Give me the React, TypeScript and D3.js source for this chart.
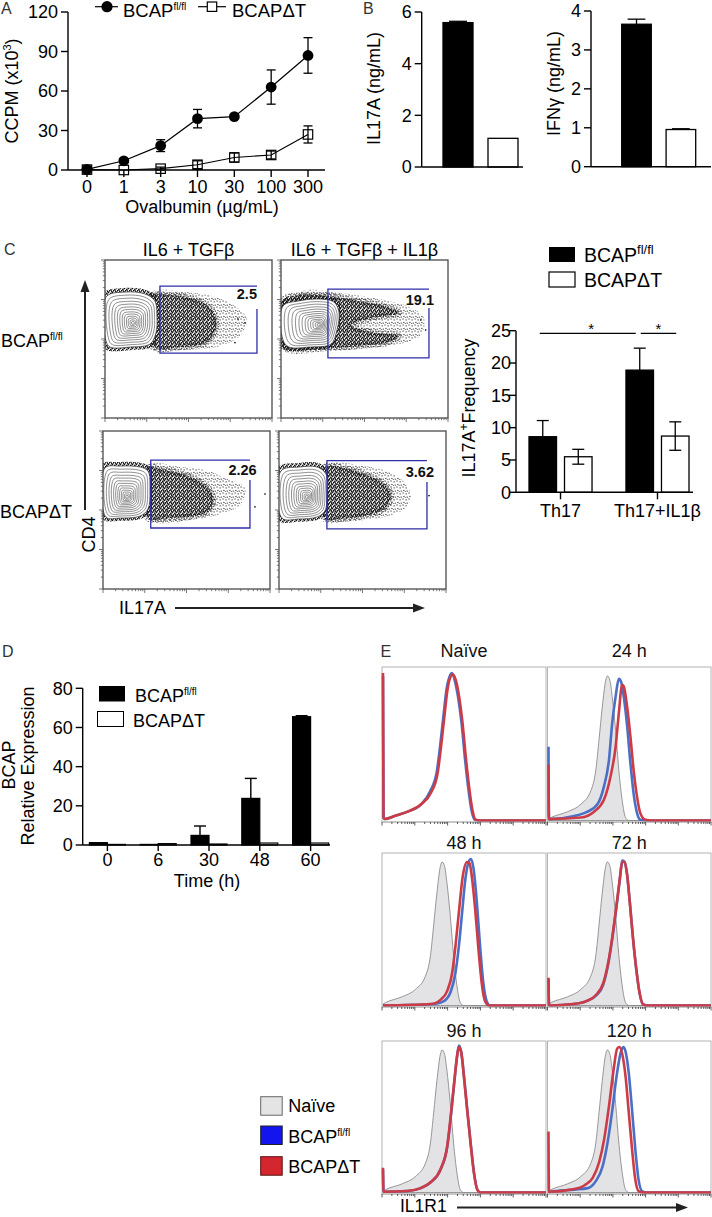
import React from "react";
import * as d3 from "d3";

const FONT = "'Liberation Sans', Arimo, Arial, Helvetica, sans-serif";

// ---------- Panel A ----------
const ovaDoses = ["0", "1", "3", "10", "30", "100", "300"];
const ccpmFlox = [0.5, 7, 18.5, 39, 40.5, 63, 87];
const ccpmFloxErr = [0, 1.5, 4.5, 7, 1.5, 13, 13.5];
const ccpmKO = [0.3, 0, 1, 4, 9.5, 11.4, 27];
const ccpmKOErr = [0, 0, 1.2, 3, 3.5, 3, 6.5];
const ccpmTicks = [0, 30, 60, 90, 120];

// ---------- Panel B ----------
const genotypes = ["BCAPfl/fl", "BCAPΔT"];
const il17aConc = [5.59, 1.11];
const il17aErr = [0.05, 0];
const il17aTicks = [0, 2, 4, 6];
const ifngConc = [3.66, 0.955];
const ifngErr = [0.13, 0.02];
const ifngTicks = [0, 1, 2, 3, 4];

// ---------- Panel C (bars) ----------
const th17Conditions = ["Th17", "Th17+IL1β"];
const il17FreqFlox = [8.6, 18.9];
const il17FreqFloxErr = [2.5, 3.4];
const il17FreqKO = [5.5, 8.7];
const il17FreqKOErr = [1.15, 2.2];
const freqTicks = [0, 5, 10, 15, 20, 25];

// ---------- Panel C (flow plots) ----------
const flowConditions = ["IL6 + TGFβ", "IL6 + TGFβ + IL1β"];
const flowPct = ["2.5", "19.1", "2.26", "3.62"];
const flowGates = [
  [32.9, 91, 41.1, 83.5, 69],
  [28.1, 88.6, 38, 81.6, 69.6],
  [28.6, 88, 38.6, 81.6, 69],
  [28.7, 88.6, 38, 81.2, 67.7],
];
const flowLabelPos = [
  [91, 75.3],
  [91.6, 71.5],
  [92, 72.2],
  [92.8, 71.1],
];
const flowContourOuter = [
  [[0.6, 76.6], [12, 79.7], [24, 78.5], [29.9, 74], [31.1, 64.6], [30.5, 53.8], [26.9, 46.8], [15, 44.9], [3, 44.9], [0.6, 48.7]],
  [[1.2, 70.9], [10.8, 74.1], [22.8, 75.3], [31.7, 73.4], [34.7, 67.1], [33.5, 55.7], [29.9, 46.8], [16.8, 44.9], [4.8, 44.9], [1.2, 49.4]],
  [[1.2, 76.6], [10.2, 77.8], [22.2, 77.2], [26.9, 74.7], [28.1, 63.3], [26.9, 50.6], [22.2, 46.2], [10.2, 44.9], [1.8, 45.6]],
  [[1.2, 74.7], [12, 77.2], [22.8, 77.2], [28.1, 72.8], [28.7, 60.1], [27.5, 49.4], [22.8, 45.6], [12, 44.3], [1.8, 44.9]],
];
const flowContourCenter = [
  [16.8, 60.1],
  [22.8, 58.9],
  [14.4, 58.2],
  [16.8, 58.2],
];
const flowDense = [
  [[26.9, 76.6], [38.9, 77.8], [50.9, 75.9], [59.9, 72.2], [65.9, 64.6], [65.9, 55.1], [59.9, 47.5], [44.9, 44.9], [29.9, 44.9]],
  [[1.2, 74.7], [10.8, 77.8], [28.7, 77.2], [46.7, 74.1], [61.7, 70.9], [70.7, 66.5], [53.9, 63.3], [41.9, 58.9], [53.9, 54.4], [70.7, 51.9], [64.7, 48.1], [46.7, 45.6], [28.7, 44.3], [1.2, 44.9]],
  [[26.9, 76.6], [37.1, 75.3], [49.1, 72.2], [61.1, 65.8], [65.9, 58.2], [64.1, 50], [55.1, 46.2], [40.1, 44.9], [26.9, 44.9]],
  [[27.5, 77.2], [38.9, 76.6], [50.9, 72.8], [62.9, 66.5], [67.1, 58.9], [62.9, 50.6], [50.9, 46.2], [35.9, 44.3], [27.5, 44.3]],
];
const flowSparse = [
  [[26.9, 79.1], [47.9, 79.7], [65.9, 76.6], [77.8, 70.9], [85, 62.7], [80.8, 51.9], [68.9, 45.6], [47.9, 43], [26.9, 43.7]],
  [[10.8, 79.1], [34.7, 79.1], [58.7, 75.3], [76.6, 70.3], [85.6, 63.3], [83.8, 52.5], [73.7, 47.5], [52.7, 44.3], [28.7, 43], [10.8, 43.7]],
  [[28.1, 78.5], [46.1, 77.2], [61.1, 75.3], [73.1, 70.3], [85, 63.9], [82, 53.2], [70.1, 47.5], [52.1, 43.7], [28.1, 43.7]],
  [[29.9, 78.5], [50.9, 77.8], [65.9, 74.1], [74.9, 67.7], [79, 58.9], [74.9, 50.6], [62.9, 45.6], [41.9, 43], [29.9, 43]],
];
const flowStrays = [
  [[79.6, 62.7], [83.8, 60.3], [77.8, 47.7]],
  [[83.7, 62], [86.6, 55.7]],
  [[97, 60.1], [91, 52]],
  [[89.8, 59.1]],
];

// ---------- Panel D ----------
const timePoints = ["0", "6", "30", "48", "60"];
const bcapFlox = [1.2, 0.3, 4.9, 23.8, 65.5];
const bcapFloxErr = [0, 0, 4.8, 10.2, 0.5];
const bcapKO = [0.3, 0.7, 0.5, 1, 1];
const bcapTicks = [0, 20, 40, 60, 80];

// ---------- Panel E (histograms: [channel 0-1000, % of max]) ----------
const histTitles = ["Naïve", "24 h", "48 h", "72 h", "96 h", "120 h"];
const naiveRef = [[0, 1], [16, 2], [118, 6], [199, 11], [260, 20], [291, 34], [311, 55], [331, 77], [352, 95], [362, 98], [378, 95], [392, 84], [413, 61], [433, 34], [453, 14], [474, 2], [494, 0], [1000, 0]];
const naiveBlue = [[0, 98], [3, 2], [10, 1], [71, 3], [152, 6], [234, 11], [290, 20], [330, 33], [350, 50], [370, 70], [390, 89], [410, 98], [423, 100], [440, 95], [460, 84], [482, 66], [502, 43], [522, 23], [543, 7], [563, 0.5], [595, 0], [1000, 0]];
const naiveRed = [[0, 100], [3, 2], [10, 1], [71, 3], [152, 6], [234, 11], [295, 19], [335, 32], [356, 50], [376, 70], [396, 89], [417, 98], [431, 99], [447, 95], [467, 84], [488, 66], [508, 43], [528, 23], [549, 7], [569, 0.5], [600, 0], [1000, 0]];
const h24Blue = [[0, 50], [3, 1], [16, 1], [159, 3], [240, 6], [301, 11], [341, 23], [372, 41], [392, 66], [413, 84], [433, 96], [447, 94], [463, 84], [484, 64], [504, 39], [524, 18], [545, 5], [565, 0.5], [606, 0], [1000, 0]];
const h24Red = [[0, 38], [3, 1], [16, 1], [199, 2], [280, 6], [341, 14], [382, 30], [413, 50], [433, 73], [453, 92], [463, 91], [484, 77], [504, 57], [524, 34], [545, 16], [565, 5], [596, 0.5], [646, 0], [1000, 0]];
const h48Blue = [[0, 0], [313, 1], [374, 3], [414, 9], [444, 22], [465, 40], [485, 63], [505, 86], [525, 98], [540, 100], [556, 93], [576, 70], [596, 40], [616, 15], [636, 3], [657, 0], [1000, 0]];
const h48Red = [[0, 0], [293, 1], [354, 4], [394, 10], [424, 22], [444, 40], [465, 63], [489, 88], [515, 98], [531, 97], [545, 88], [566, 65], [586, 38], [606, 15], [626, 3], [651, 0], [1000, 0]];
const h72Blue = [[0, 18], [3, 0.5], [10, 0], [153, 1], [234, 3], [295, 7], [336, 14], [367, 28], [393, 46], [418, 67], [438, 85], [455, 99], [469, 98], [484, 89], [500, 71], [520, 46], [541, 24], [561, 8], [581, 1], [612, 0], [1000, 0]];
const h72Red = [[0, 19], [3, 0.5], [10, 0], [153, 1], [234, 3], [295, 7.5], [336, 15], [367, 29], [393, 47], [418, 68], [438, 86], [454, 98], [468, 98], [483, 90], [499, 72], [519, 47], [540, 25], [560, 9], [580, 1], [611, 0], [1000, 0]];
const h96Blue = [[0, 16], [3, 0.5], [6, 0.5], [150, 1], [232, 3], [293, 7], [354, 16], [395, 32], [415, 51], [436, 74], [456, 95], [466, 101], [481, 96], [497, 80], [517, 57], [538, 34], [558, 14], [579, 2], [599, 0], [1000, 0]];
const h96Red = [[0, 17], [3, 0.5], [6, 0.5], [149, 1], [231, 3], [292, 7], [353, 16], [394, 32], [414, 51], [435, 74], [455, 94], [465, 100], [480, 96], [496, 80], [516, 57], [537, 34], [557, 14], [578, 2], [598, 0], [1000, 0]];
const h120Blue = [[0, 0], [10, 0.5], [161, 2], [242, 3], [292, 8], [333, 18], [363, 34], [393, 57], [419, 80], [444, 96], [460, 100], [474, 97], [494, 82], [514, 57], [534, 30], [554, 9], [575, 1], [605, 0], [1000, 0]];
const h120Red = [[0, 42], [3, 0.5], [10, 0.5], [141, 2], [222, 5], [272, 10], [312, 21], [343, 37], [373, 60], [399, 83], [423, 99], [437, 100], [454, 95], [474, 80], [494, 55], [514, 30], [534, 9], [554, 1], [585, 0], [1000, 0]];
const histFlox = [naiveBlue, h24Blue, h48Blue, h72Blue, h96Blue, h120Blue];
const histKO = [naiveRed, h24Red, h48Red, h72Red, h96Red, h120Red];
const histLegend = ["Naïve", "BCAPfl/fl", "BCAPΔT"];

// ---------- style constants ----------
const contourLevels = [0.9, 0.8, 0.7, 0.61, 0.52, 0.44, 0.36, 0.29, 0.22, 0.16, 0.1, 0.05];
const denseDotTile = [[0, 0], [2, 0.7], [1, 2], [3, 2.7], [0.3, 3.1], [2.5, 1.6], [3.4, 0.2]];
const mediumDotTile = [[0.3, 0.4], [2.6, 1.1], [1.2, 2.7], [3.8, 3.6], [0.2, 4.3], [2.9, 4.6]];
const sparseDotTile = [[0.5, 0.5], [3.6, 1.4], [1.4, 3.9], [4.7, 4.6], [2.8, 5.4]];
const BLUE = "#4a6fc4";
const RED = "#cc3b46";

function logTicks(decades: number) {
  const out: { v: number; major: boolean }[] = [];
  for (let d = 0; d < decades; d++)
    for (let m = 1; m < 10; m++) out.push({ v: m * Math.pow(10, d), major: m === 1 });
  out.push({ v: Math.pow(10, decades), major: true });
  return out;
}

function GenoLabel({ name, x, y, size, supSize, supDy, anchor }: any) {
  const isFlox = name.endsWith("fl/fl");
  return (
    <text x={x} y={y} fontSize={size} textAnchor={anchor || "start"}>
      {isFlox ? "BCAP" : name}
      {isFlox ? <tspan fontSize={supSize} dy={-supDy}>fl/fl</tspan> : null}
    </text>
  );
}

// ---------- Panel A ----------
function PanelA() {
  const x = d3.scalePoint<string>().domain(ovaDoses).range([87, 308]);
  const y = d3.scaleLinear().domain([0, 120]).range([170, 12]);
  const ax0 = 68, ax1 = 325;
  const line = d3.line<number>().x((_, i) => x(ovaDoses[i]) as number).y((d) => y(d));
  const errBars = (vals: number[], errs: number[], k: string) =>
    vals.map((v, i) => {
      if (!errs[i]) return null;
      const cx = x(ovaDoses[i]) as number;
      return (
        <g key={k + i} stroke="#000" strokeWidth={1.3}>
          <line x1={cx} x2={cx} y1={y(Math.max(0, v - errs[i]))} y2={y(v + errs[i])} />
          <line x1={cx - 4.5} x2={cx + 4.5} y1={y(v + errs[i])} y2={y(v + errs[i])} />
          <line x1={cx - 4.5} x2={cx + 4.5} y1={y(Math.max(0, v - errs[i]))} y2={y(Math.max(0, v - errs[i]))} />
        </g>
      );
    });
  return (
    <g>
      <text x={1} y={13.5} fontSize={16} fill="#333">A</text>
      <line x1={ax0} x2={ax0} y1={y(0)} y2={y(120)} stroke="#000" strokeWidth={1.4} />
      {ccpmTicks.map((t) => (
        <g key={t}>
          <line x1={ax0 - 7} x2={ax0} y1={y(t)} y2={y(t)} stroke="#000" strokeWidth={1.4} />
          <text x={ax0 - 10} y={y(t) + 6.3} fontSize={18} textAnchor="end">{t}</text>
        </g>
      ))}
      <line x1={ax0} x2={ax1} y1={y(0)} y2={y(0)} stroke="#000" strokeWidth={1.4} />
      {ovaDoses.map((d) => (
        <g key={d}>
          <line x1={x(d)} x2={x(d)} y1={y(0)} y2={y(0) + 7} stroke="#000" strokeWidth={1.4} />
          <text x={x(d)} y={y(0) + 23} fontSize={18} textAnchor="middle">{d}</text>
        </g>
      ))}
      <text x={202} y={213} fontSize={18} textAnchor="middle">Ovalbumin (µg/mL)</text>
      <text transform="translate(18,91) rotate(-90)" fontSize={18} textAnchor="middle">
        CCPM (x10<tspan fontSize={11} dy={-7}>3</tspan><tspan dy={7}>)</tspan>
      </text>
      <path d={line(ccpmKO) || ""} fill="none" stroke="#000" strokeWidth={1.2} />
      <path d={line(ccpmFlox) || ""} fill="none" stroke="#000" strokeWidth={1.2} />
      {errBars(ccpmKO, ccpmKOErr, "k")}
      {errBars(ccpmFlox, ccpmFloxErr, "f")}
      {ccpmKO.map((v, i) => (
        <rect key={"s" + i} x={(x(ovaDoses[i]) as number) - 4.7} y={y(v) - 4.7} width={9.4} height={9.4} fill="none" stroke="#000" strokeWidth={1.2} />
      ))}
      {ccpmFlox.map((v, i) => (
        <circle key={"c" + i} cx={x(ovaDoses[i])} cy={y(v)} r={5.4} fill="#000" />
      ))}
      {/* legend */}
      <line x1={95} x2={118} y1={6.7} y2={6.7} stroke="#000" strokeWidth={1.2} />
      <circle cx={107} cy={6.7} r={5.6} fill="#000" />
      <GenoLabel name={genotypes[0]} x={123} y={16.5} size={18.5} supSize={10} supDy={7} />
      <line x1={198} x2={226} y1={6.7} y2={6.7} stroke="#000" strokeWidth={1.2} />
      <rect x={207.3} y={2} width={9.4} height={9.4} fill="#fff" stroke="#000" strokeWidth={1.2} />
      <GenoLabel name={genotypes[1]} x={232} y={16.5} size={18.5} />
    </g>
  );
}

// ---------- Panel B ----------
function SimpleBars({ values, errs, yMax, ticks, yRange, axisX, axisEnd, barRange, label, labelX, labelY }: any) {
  const y = d3.scaleLinear().domain([0, yMax]).range(yRange);
  const x = d3.scaleBand<string>().domain(genotypes).range(barRange).paddingInner(1 / 3);
  const bw = x.bandwidth();
  return (
    <g>
      {values.map((v: number, i: number) => (
        <rect key={i} x={x(genotypes[i])} y={y(v)} width={bw} height={y(0) - y(v)} fill={i === 0 ? "#000" : "#fff"} stroke="#000" strokeWidth={1.3} />
      ))}
      {errs.map((e: number, i: number) => {
        if (!e) return null;
        const cx = (x(genotypes[i]) as number) + bw / 2;
        return (
          <g key={"e" + i} stroke="#000" strokeWidth={1.3}>
            <line x1={cx} x2={cx} y1={y(values[i])} y2={y(values[i] + e)} />
            <line x1={cx - bw * 0.3} x2={cx + bw * 0.3} y1={y(values[i] + e)} y2={y(values[i] + e)} />
          </g>
        );
      })}
      <line x1={axisX} x2={axisX} y1={y(0)} y2={y(yMax)} stroke="#000" strokeWidth={1.4} />
      <line x1={axisX} x2={axisEnd} y1={y(0)} y2={y(0)} stroke="#000" strokeWidth={1.4} />
      {ticks.map((t: number) => (
        <g key={t}>
          <line x1={axisX - 7} x2={axisX} y1={y(t)} y2={y(t)} stroke="#000" strokeWidth={1.4} />
          <text x={axisX - 10} y={y(t) + 6.3} fontSize={18} textAnchor="end">{t}</text>
        </g>
      ))}
      <text transform={`translate(${labelX},${labelY}) rotate(-90)`} fontSize={18} textAnchor="middle">{label}</text>
    </g>
  );
}

function PanelB() {
  return (
    <g>
      <text x={363} y={13.5} fontSize={16} fill="#333">B</text>
      <SimpleBars values={il17aConc} errs={il17aErr} yMax={6} ticks={il17aTicks} yRange={[167, 12]} axisX={421.7} axisEnd={523} barRange={[443, 518]} label="IL17A (ng/mL)" labelX={380} labelY={88.5} />
      <SimpleBars values={ifngConc} errs={ifngErr} yMax={4} ticks={ifngTicks} yRange={[166.7, 11]} axisX={591} axisEnd={711} barRange={[621.7, 695.7]} label="IFNγ (ng/mL)" labelX={560} labelY={83.5} />
    </g>
  );
}

// ---------- Panel C flow ----------
function FlowPlot({ i, x0, top }: { i: number; x0: number; top: number }) {
  const w = 167, h = 158;
  const sx = d3.scaleLinear().domain([0, 100]).range([x0, x0 + w]);
  const sy = d3.scaleLinear().domain([0, 100]).range([top + h, top]);
  const lx = d3.scaleLog().domain([1, 1e4]).range([x0, x0 + w]);
  const ly = d3.scaleLog().domain([1, 1e4]).range([top + h, top]);
  const poly = d3
    .line<number[]>()
    .x((d) => sx(d[0]))
    .y((d) => sy(d[1]))
    .curve(d3.curveCatmullRomClosed.alpha(0.5));
  const c = flowContourCenter[i];
  const outer = flowContourOuter[i];
  const scaled = (s: number) => outer.map((p) => [c[0] + (p[0] - c[0]) * s, c[1] + (p[1] - c[1]) * s]);
  const [gx1, gx2, gy1, gy2, gOpen] = flowGates[i];
  const gatePath = `M${sx(gx2)},${sy(gOpen)}V${sy(gy1)}H${sx(gx1)}V${sy(gy2)}H${sx(gx2)}`;
  const ticks = logTicks(4);
  return (
    <g>
      <clipPath id={`fclip${i}`}>
        <rect x={x0} y={top} width={w} height={h} />
      </clipPath>
      <g clipPath={`url(#fclip${i})`}>
        <path d={poly(flowSparse[i]) || ""} fill="url(#dotsSparse)" />
        <path d={poly(flowDense[i]) || ""} fill="url(#dotsDense)" stroke="url(#dotsMedium)" strokeWidth={6} />
        <path d={poly(scaled(1.13)) || ""} fill="url(#dotsDense)" />
        <path d={poly(outer) || ""} fill="#fff" stroke="#333" strokeWidth={0.7} />
        {contourLevels.map((s) => (
          <path key={s} d={poly(scaled(s)) || ""} fill="none" stroke="#444" strokeWidth={0.6} />
        ))}
        {flowStrays[i].map((p, k) => (
          <rect key={k} x={sx(p[0]) - 0.7} y={sy(p[1]) - 0.7} width={1.4} height={1.4} fill="#000" />
        ))}
      </g>
      <path d={gatePath} fill="none" stroke="#2e2ea8" strokeWidth={1.3} />
      <text x={sx(flowLabelPos[i][0])} y={sy(flowLabelPos[i][1])} fontSize={14.5} fontWeight="bold" textAnchor="end" fill="#111">
        {flowPct[i]}
      </text>
      <rect x={x0} y={top} width={w} height={h} fill="none" stroke="#4a4a4a" strokeWidth={1.3} />
      {ticks.map((t, k) => (
        <line key={"x" + k} x1={lx(t.v)} x2={lx(t.v)} y1={top + h} y2={top + h + (t.major ? 4 : 2.2)} stroke="#555" strokeWidth={0.8} />
      ))}
      {ticks.map((t, k) => (
        <line key={"y" + k} x1={x0 - (t.major ? 4 : 2.2)} x2={x0} y1={ly(t.v)} y2={ly(t.v)} stroke="#555" strokeWidth={0.8} />
      ))}
    </g>
  );
}

function PanelCFlow() {
  const cols = [105, 281];
  const rows = [260, 431];
  return (
    <g>
      <text x={4} y={255} fontSize={16} fill="#333">C</text>
      {flowConditions.map((t, j) => (
        <text key={t} x={cols[j] + 83.5} y={256} fontSize={18} textAnchor="middle">{t}</text>
      ))}
      <GenoLabel name={genotypes[0]} x={1} y={346.5} size={18} supSize={10} supDy={7} />
      <GenoLabel name={genotypes[1]} x={0} y={518} size={18} />
      {[0, 1, 2, 3].map((i) => (
        <FlowPlot key={i} i={i} x0={cols[i % 2] - (i >= 2 ? 2 : 0)} top={rows[Math.floor(i / 2)]} />
      ))}
      {/* CD4 arrow */}
      <line x1={85} x2={85} y1={510} y2={290} stroke="#222" strokeWidth={2} />
      <path d="M85,280 L80.5,292 L89.5,292 Z" fill="#222" />
      <text transform="translate(95,534.5) rotate(-90)" fontSize={18} textAnchor="middle">CD4</text>
      {/* IL17A arrow */}
      <text x={119} y={614} fontSize={18}>IL17A</text>
      <line x1={175} x2={414} y1={608} y2={608} stroke="#222" strokeWidth={2} />
      <path d="M425,608 L413,603.5 L413,612.5 Z" fill="#222" />
    </g>
  );
}

// ---------- Panel C bars ----------
function PanelCBars() {
  const y = d3.scaleLinear().domain([0, 25]).range([492.3, 330.7]);
  const x0 = d3.scaleBand<string>().domain(th17Conditions).range([529, 689]).paddingInner(0.35);
  const x1 = d3.scaleBand<string>().domain(genotypes).range([0, x0.bandwidth()]).paddingInner(0.225);
  const axX = 516;
  const series = [
    { vals: il17FreqFlox, errs: il17FreqFloxErr, fill: "#000", g: genotypes[0] },
    { vals: il17FreqKO, errs: il17FreqKOErr, fill: "#fff", g: genotypes[1] },
  ];
  const bw = x1.bandwidth();
  const cxOf = (c: string, g: string) => (x0(c) as number) + (x1(g) as number) + bw / 2;
  const sigY = y(24.6);
  return (
    <g>
      {series.map((s) =>
        s.vals.map((v, i) => {
          const c = th17Conditions[i];
          const cx = cxOf(c, s.g);
          return (
            <g key={s.g + c}>
              <line x1={cx} x2={cx} y1={y(v - s.errs[i])} y2={y(v + s.errs[i])} stroke="#000" strokeWidth={1.3} />
              <line x1={cx - 6} x2={cx + 6} y1={y(v + s.errs[i])} y2={y(v + s.errs[i])} stroke="#000" strokeWidth={1.3} />
              <line x1={cx - 6} x2={cx + 6} y1={y(v - s.errs[i])} y2={y(v - s.errs[i])} stroke="#000" strokeWidth={1.3} />
              <rect x={cx - bw / 2} y={y(v)} width={bw} height={y(0) - y(v)} fill={s.fill} stroke="#000" strokeWidth={1.3} fillOpacity={s.fill === "#fff" ? 0 : 1} />
            </g>
          );
        })
      )}
      <line x1={axX} x2={axX} y1={y(0)} y2={y(25)} stroke="#000" strokeWidth={1.4} />
      <line x1={axX} x2={693} y1={y(0)} y2={y(0)} stroke="#000" strokeWidth={1.4} />
      {freqTicks.map((t) => (
        <g key={t}>
          <line x1={axX - 7} x2={axX} y1={y(t)} y2={y(t)} stroke="#000" strokeWidth={1.4} />
          <text x={axX - 5} y={y(t) + 6.3} fontSize={18} textAnchor="end">{t}</text>
        </g>
      ))}
      {th17Conditions.map((c) => {
        const cx = (x0(c) as number) + x0.bandwidth() / 2;
        return (
          <g key={c}>
            <line x1={cx} x2={cx} y1={y(0)} y2={y(0) + 7} stroke="#000" strokeWidth={1.4} />
            <text x={cx} y={516.7} fontSize={18} textAnchor="middle">{c}</text>
          </g>
        );
      })}
      <text transform="translate(475,408) rotate(-90)" fontSize={18} textAnchor="middle">
        IL17A<tspan fontSize={12} dy={-7}>+</tspan>
        <tspan dy={7}>Frequency</tspan>
      </text>
      {/* significance */}
      <line x1={cxOf(th17Conditions[0], genotypes[0]) - 3} x2={cxOf(th17Conditions[1], genotypes[0]) - 4} y1={sigY} y2={sigY} stroke="#000" strokeWidth={1.2} />
      <text x={(cxOf(th17Conditions[0], genotypes[0]) + cxOf(th17Conditions[1], genotypes[0])) / 2} y={sigY + 1} fontSize={15} textAnchor="middle">*</text>
      <line x1={cxOf(th17Conditions[1], genotypes[0]) + 1} x2={cxOf(th17Conditions[1], genotypes[1]) + 1} y1={sigY} y2={sigY} stroke="#000" strokeWidth={1.2} />
      <text x={(cxOf(th17Conditions[1], genotypes[0]) + cxOf(th17Conditions[1], genotypes[1])) / 2 + 1} y={sigY + 1} fontSize={15} textAnchor="middle">*</text>
      {/* legend */}
      <rect x={549} y={247} width={26} height={15} fill="#000" />
      <GenoLabel name={genotypes[0]} x={584} y={262} size={19.5} supSize={13} supDy={8} />
      <rect x={549} y={272} width={26} height={15} fill="#fff" stroke="#000" strokeWidth={1.2} />
      <GenoLabel name={genotypes[1]} x={584} y={287} size={19.5} />
    </g>
  );
}

// ---------- Panel D ----------
function PanelD() {
  const x = d3.scaleBand<string>().domain(timePoints).range([82, 336]);
  const y = d3.scaleLinear().domain([0, 80]).range([845, 688.3]);
  const ax = 82.7;
  const bw = 18;
  const cx = (t: string) => (x(t) as number) + x.bandwidth() / 2;
  return (
    <g>
      <text x={2} y={657} fontSize={16} fill="#333">D</text>
      {bcapFlox.map((v, i) => {
        const c = cx(timePoints[i]);
        const e = bcapFloxErr[i];
        return (
          <g key={"f" + i}>
            {e > 0 && (
              <g stroke="#000" strokeWidth={1.4}>
                <line x1={c - bw / 2} x2={c - bw / 2} y1={y(v)} y2={y(v + e)} />
                <line x1={c - bw / 2 - 6} x2={c - bw / 2 + 6} y1={y(v + e)} y2={y(v + e)} />
              </g>
            )}
            <rect x={c - bw} y={y(v)} width={bw} height={y(0) - y(v)} fill="#000" stroke="#000" strokeWidth={1.2} />
          </g>
        );
      })}
      {bcapKO.map((v, i) => {
        const c = cx(timePoints[i]);
        return <rect key={"k" + i} x={c} y={y(v)} width={bw} height={y(0) - y(v)} fill="#fff" stroke="#000" strokeWidth={1.2} />;
      })}
      <line x1={ax} x2={ax} y1={y(0)} y2={y(80)} stroke="#000" strokeWidth={1.4} />
      <line x1={ax} x2={330} y1={y(0)} y2={y(0)} stroke="#000" strokeWidth={1.4} />
      {bcapTicks.map((t) => (
        <g key={t}>
          <line x1={ax - 7} x2={ax} y1={y(t)} y2={y(t)} stroke="#000" strokeWidth={1.4} />
          <text x={ax - 10} y={y(t) + 6.3} fontSize={18} textAnchor="end">{t}</text>
        </g>
      ))}
      {timePoints.map((t) => (
        <g key={t}>
          <line x1={cx(t)} x2={cx(t)} y1={y(0)} y2={y(0) + 6} stroke="#000" strokeWidth={1.4} />
          <text x={cx(t)} y={866} fontSize={18} textAnchor="middle">{t}</text>
        </g>
      ))}
      <text x={207} y={887} fontSize={18} textAnchor="middle">Time (h)</text>
      <text transform="translate(15,765) rotate(-90)" fontSize={18} textAnchor="middle">BCAP</text>
      <text transform="translate(33.5,766) rotate(-90)" fontSize={18} textAnchor="middle">Relative Expression</text>
      {/* legend */}
      <rect x={99} y={686} width={26} height={15.5} fill="#000" />
      <GenoLabel name={genotypes[0]} x={135} y={701.5} size={18} supSize={10} supDy={7} />
      <rect x={97.5} y={711.5} width={26} height={15} fill="#fff" stroke="#000" strokeWidth={1} />
      <GenoLabel name={genotypes[1]} x={133} y={726.5} size={18} />
    </g>
  );
}

// ---------- Panel E ----------
function HistPanel({ idx, x0, x1, top, bottom, titleY }: any) {
  const sx = d3.scaleLinear().domain([0, 1000]).range([x0 + 1, x1]);
  const sy = d3.scaleLinear().domain([0, 100]).range([bottom - 1.5, top + 6]);
  const lx = d3.scaleLog().domain([1, 1e5]).range([x0, x1]);
  const line = d3
    .line<number[]>()
    .x((d) => sx(d[0]))
    .y((d) => sy(d[1]))
    .curve(d3.curveMonotoneX);
  const area = d3
    .area<number[]>()
    .x((d) => sx(d[0]))
    .y0(sy(0))
    .y1((d) => sy(d[1]))
    .curve(d3.curveMonotoneX);
  const ticks = logTicks(5);
  return (
    <g>
      <text x={(x0 + x1) / 2} y={titleY} fontSize={18} textAnchor="middle" fill="#111">{histTitles[idx]}</text>
      <rect x={x0} y={top} width={x1 - x0} height={bottom - top} fill="#fff" stroke="#b4b4b4" strokeWidth={1} />
      {idx > 0 && <path d={area(naiveRef) || ""} fill="#e3e3e6" stroke="#8c8c8c" strokeWidth={0.9} />}
      <path d={line(histFlox[idx]) || ""} fill="none" stroke={BLUE} strokeWidth={2.6} strokeLinejoin="round" />
      <path d={line(histKO[idx]) || ""} fill="none" stroke={RED} strokeWidth={2.6} strokeLinejoin="round" />
      <line x1={x0} x2={x1} y1={bottom} y2={bottom} stroke="#aaa" strokeWidth={0.8} />
      {ticks.map((t, k) => (
        <line key={k} x1={lx(t.v)} x2={lx(t.v)} y1={bottom} y2={bottom + (t.major ? 3.5 : 2)} stroke="#333" strokeWidth={0.8} />
      ))}
    </g>
  );
}

function PanelE() {
  const cols = [[382, 546], [547.5, 711]];
  const rows = [
    [667, 822, 657],
    [853, 1007, 849],
    [1041, 1194, 1037],
  ];
  const legendFill = ["#e4e4e4", "#1414ee", "#d3262f"];
  const legendStroke = ["#666", "#222", "#5a1010"];
  const legendY = [1096.7, 1126, 1156.7];
  return (
    <g>
      <text x={380.5} y={657} fontSize={16} fill="#333">E</text>
      {histTitles.map((_, i) => (
        <HistPanel key={i} idx={i} x0={cols[i % 2][0]} x1={cols[i % 2][1]} top={rows[Math.floor(i / 2)][0]} bottom={rows[Math.floor(i / 2)][1]} titleY={rows[Math.floor(i / 2)][2]} />
      ))}
      {histLegend.map((name, i) => (
        <g key={name}>
          <rect x={260.7} y={legendY[i]} width={21.5} height={18.5} fill={legendFill[i]} stroke={legendStroke[i]} strokeWidth={1} />
          {i === 0 ? (
            <text x={288.3} y={legendY[i] + 15} fontSize={18}>{name}</text>
          ) : (
            <GenoLabel name={name} x={288.3} y={legendY[i] + 16.5} size={18} supSize={10} supDy={7} />
          )}
        </g>
      ))}
      <text x={400} y={1212} fontSize={17.5}>IL1R1</text>
      <line x1={457} x2={677} y1={1207.5} y2={1207.5} stroke="#222" strokeWidth={1.8} />
      <path d="M688,1207.5 L676,1203 L676,1212 Z" fill="#222" />
    </g>
  );
}

export default function App() {
  return (
    <div style={{ position: "absolute", left: 0, top: 0 }}>
      <svg width={712} height={1217} fontFamily={FONT} style={{ display: "block", background: "#fff" }}>
        <defs>
          <pattern id="dotsDense" width={4} height={4} patternUnits="userSpaceOnUse">
            {denseDotTile.map((p, k) => (
              <rect key={k} x={p[0]} y={p[1]} width={1.25} height={1.25} fill="#111" />
            ))}
          </pattern>
          <pattern id="dotsMedium" width={5} height={5} patternUnits="userSpaceOnUse">
            {mediumDotTile.map((p, k) => (
              <rect key={k} x={p[0]} y={p[1]} width={1.1} height={1.1} fill="#111" />
            ))}
          </pattern>
          <pattern id="dotsSparse" width={6} height={6} patternUnits="userSpaceOnUse">
            {sparseDotTile.map((p, k) => (
              <rect key={k} x={p[0]} y={p[1]} width={1.05} height={1.05} fill="#111" />
            ))}
          </pattern>
        </defs>
        <rect x={0} y={0} width={712} height={1217} fill="#fff" />
        <PanelA />
        <PanelB />
        <PanelCFlow />
        <PanelCBars />
        <PanelD />
        <PanelE />
      </svg>
    </div>
  );
}
